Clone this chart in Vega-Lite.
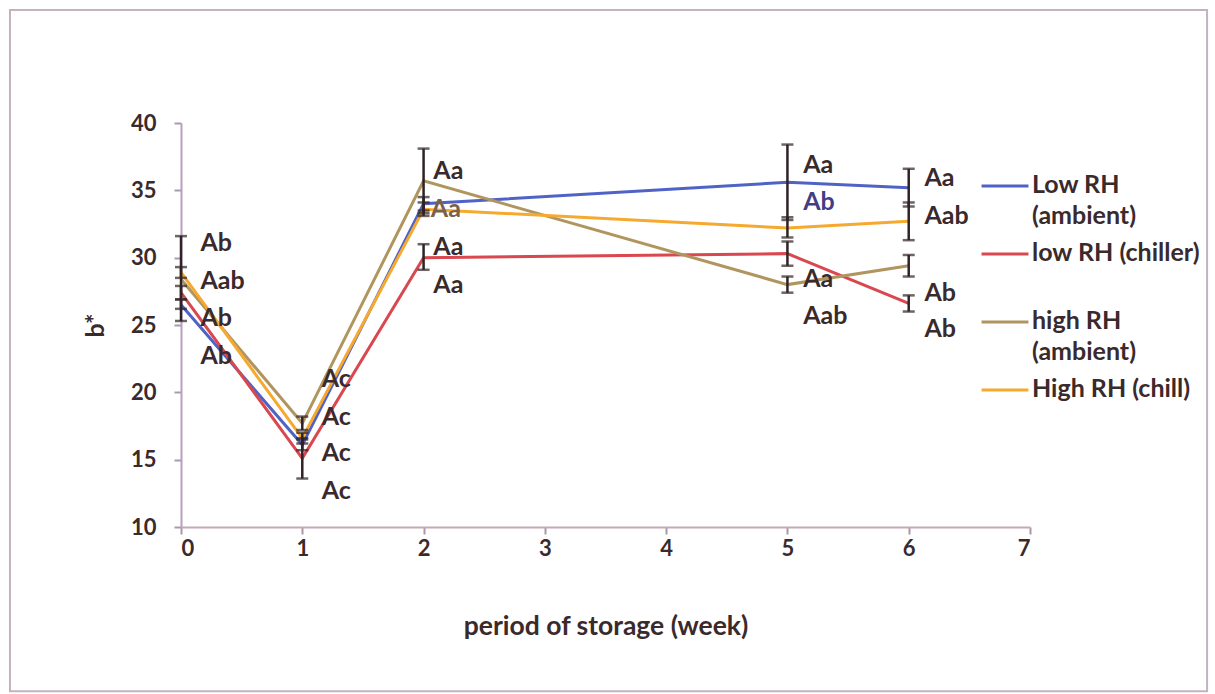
{
  "$schema": "https://vega.github.io/schema/vega-lite/v6.json",
  "autosize": {"type": "none"},
  "padding": {"left": 181, "top": 123, "right": 185, "bottom": 167},
  "width": 849,
  "height": 404,
  "background": "white",
  "config": {
    "font": "Lato",
    "view": {"stroke": null},
    "axis": {"grid": false}
  },
  "datasets": {
    "points": [
      {"series": "Low RH (ambient)", "week": 0, "b": 26.5, "lo": 26.2, "hi": 26.9},
      {"series": "Low RH (ambient)", "week": 1, "b": 16.1, "lo": 15.7, "hi": 16.5},
      {"series": "Low RH (ambient)", "week": 2, "b": 34.0, "lo": 33.5, "hi": 34.5},
      {"series": "Low RH (ambient)", "week": 5, "b": 35.6, "lo": 32.8, "hi": 38.4},
      {"series": "Low RH (ambient)", "week": 6, "b": 35.2, "lo": 33.8, "hi": 36.6},
      {"series": "low RH (chiller)", "week": 0, "b": 27.4, "lo": 26.9, "hi": 27.9},
      {"series": "low RH (chiller)", "week": 1, "b": 15.1, "lo": 13.6, "hi": 16.6},
      {"series": "low RH (chiller)", "week": 2, "b": 30.0, "lo": 29.1, "hi": 31.0},
      {"series": "low RH (chiller)", "week": 5, "b": 30.3, "lo": 29.4, "hi": 31.2},
      {"series": "low RH (chiller)", "week": 6, "b": 26.6, "lo": 26.0, "hi": 27.2},
      {"series": "high RH (ambient)", "week": 0, "b": 28.4, "lo": 25.3, "hi": 31.6},
      {"series": "high RH (ambient)", "week": 1, "b": 17.7, "lo": 17.2, "hi": 18.2},
      {"series": "high RH (ambient)", "week": 2, "b": 35.7, "lo": 33.3, "hi": 38.1},
      {"series": "high RH (ambient)", "week": 5, "b": 28.0, "lo": 27.4, "hi": 28.6},
      {"series": "high RH (ambient)", "week": 6, "b": 29.4, "lo": 28.6, "hi": 30.2},
      {"series": "High RH (chill)", "week": 0, "b": 28.9, "lo": 28.5, "hi": 29.3},
      {"series": "High RH (chill)", "week": 1, "b": 16.6, "lo": 16.2, "hi": 17.0},
      {"series": "High RH (chill)", "week": 2, "b": 33.6, "lo": 33.1, "hi": 34.1},
      {"series": "High RH (chill)", "week": 5, "b": 32.2, "lo": 31.5, "hi": 33.0},
      {"series": "High RH (chill)", "week": 6, "b": 32.7, "lo": 31.3, "hi": 34.1}
    ],
    "letters": [
      {"x": 0.16, "y": 31.1, "text": "Ab", "tone": "dark"},
      {"x": 0.16, "y": 28.3, "text": "Aab", "tone": "dark"},
      {"x": 0.16, "y": 25.5, "text": "Ab", "tone": "dark"},
      {"x": 0.16, "y": 22.7, "text": "Ab", "tone": "dark"},
      {"x": 1.16, "y": 21.0, "text": "Ac", "tone": "dark"},
      {"x": 1.16, "y": 18.2, "text": "Ac", "tone": "dark"},
      {"x": 1.16, "y": 15.5, "text": "Ac", "tone": "dark"},
      {"x": 1.16, "y": 12.7, "text": "Ac", "tone": "dark"},
      {"x": 2.08, "y": 36.4, "text": "Aa", "tone": "dark"},
      {"x": 2.06, "y": 33.6, "text": "Aa", "tone": "brown"},
      {"x": 2.08, "y": 30.8, "text": "Aa", "tone": "dark"},
      {"x": 2.08, "y": 28.0, "text": "Aa", "tone": "dark"},
      {"x": 5.13, "y": 36.9, "text": "Aa", "tone": "dark"},
      {"x": 5.13, "y": 34.1, "text": "Ab", "tone": "blue"},
      {"x": 5.13, "y": 28.4, "text": "Aa", "tone": "dark"},
      {"x": 5.13, "y": 25.7, "text": "Aab", "tone": "dark"},
      {"x": 6.13, "y": 35.9, "text": "Aa", "tone": "dark"},
      {"x": 6.13, "y": 33.1, "text": "Aab", "tone": "dark"},
      {"x": 6.13, "y": 27.4, "text": "Ab", "tone": "dark"},
      {"x": 6.13, "y": 24.7, "text": "Ab", "tone": "dark"}
    ]
  },
  "layer": [
    {
      "data": {"name": "points"},
      "mark": {"type": "line", "strokeWidth": 3, "clip": false},
      "encoding": {
        "x": {
          "field": "week", "type": "quantitative", "title": "period of storage (week)",
          "scale": {"domain": [0, 7], "nice": false, "zero": false},
          "axis": {
            "values": [0, 1, 2, 3, 4, 5, 6, 7],
            "format": "d",
            "titleFontSize": 26.5, "titleFontWeight": "bold", "titleColor": "#3a2a2c",
            "titlePadding": 54,
            "labelFontSize": 22, "labelFontWeight": "bold", "labelColor": "#3a2a2c",
            "labelPadding": 4,
            "domainColor": "#c6a8b8", "domainWidth": 2,
            "tickColor": "#a898a8", "tickSize": 7, "tickWidth": 2
          }
        },
        "y": {
          "field": "b", "type": "quantitative", "title": "b*",
          "scale": {"domain": [10, 40], "nice": false, "zero": false},
          "axis": {
            "values": [10, 15, 20, 25, 30, 35, 40],
            "titleFontSize": 25, "titleFontWeight": "bold", "titleColor": "#3a2a2c",
            "titlePadding": 22,
            "labelFontSize": 22, "labelFontWeight": "bold", "labelColor": "#3a2a2c",
            "labelPadding": 18,
            "domainColor": "#b8a0c0", "domainWidth": 2,
            "tickColor": "#a898b0", "tickSize": 7, "tickWidth": 2
          }
        },
        "color": {
          "field": "series", "type": "nominal",
          "scale": {
            "domain": ["Low RH (ambient)", "low RH (chiller)", "high RH (ambient)", "High RH (chill)"],
            "range": ["#4f63c6", "#d9474f", "#b0955f", "#f6a92f"]
          },
          "legend": {
            "orient": "none",
            "legendX": 799,
            "legendY": 38,
            "title": null,
            "symbolType": "stroke",
            "symbolSize": 2200,
            "symbolStrokeWidth": 3,
            "labelFontSize": 25,
            "labelFontWeight": "bold",
            "labelColor": "#3a2a2c",
            "labelOffset": 2,
            "labelLimit": 300,
            "labelBaseline": "top",
            "rowPadding": 0,
            "labelExpr": "datum.label == 'Low RH (ambient)' ? ['Low RH', '(ambient)'] : datum.label == 'high RH (ambient)' ? ['high RH', '(ambient)'] : [datum.label, ' ']",
            "encode": {
              "labels": {"update": {"lineHeight": {"value": 31}, "dy": {"value": -13}}}
            }
          }
        },
        "order": {"field": "week"}
      }
    },
    {
      "data": {"name": "points"},
      "mark": {
        "type": "errorbar",
        "ticks": {"size": 12, "thickness": 2.5, "color": "#2e2224"},
        "rule": {"strokeWidth": 2.5, "color": "#2e2224"}
      },
      "encoding": {
        "x": {"field": "week", "type": "quantitative", "title": "period of storage (week)"},
        "y": {"field": "lo", "type": "quantitative", "title": "b*"},
        "y2": {"field": "hi"}
      }
    },
    {
      "data": {"name": "letters"},
      "mark": {"type": "text", "align": "left", "baseline": "middle", "fontSize": 25, "fontWeight": "bold", "clip": false},
      "encoding": {
        "x": {"field": "x", "type": "quantitative", "title": "period of storage (week)"},
        "y": {"field": "y", "type": "quantitative", "title": "b*"},
        "text": {"field": "text"},
        "color": {
          "field": "tone", "type": "nominal",
          "scale": {"domain": ["dark", "blue", "brown"], "range": ["#3a2a2c", "#3e3f86", "#7a6248"]},
          "legend": null
        }
      }
    },
    {
      "data": {"values": [{"frame": "border"}]},
      "mark": {"type": "rect", "filled": false, "stroke": "#c4b2c0", "strokeWidth": 2, "clip": false},
      "encoding": {
        "x": {"datum": -1.41, "type": "quantitative"},
        "x2": {"datum": 8.46},
        "y": {"datum": 48.39, "type": "quantitative"},
        "y2": {"datum": -2.2}
      }
    }
  ],
  "resolve": {"scale": {"color": "independent"}}
}
